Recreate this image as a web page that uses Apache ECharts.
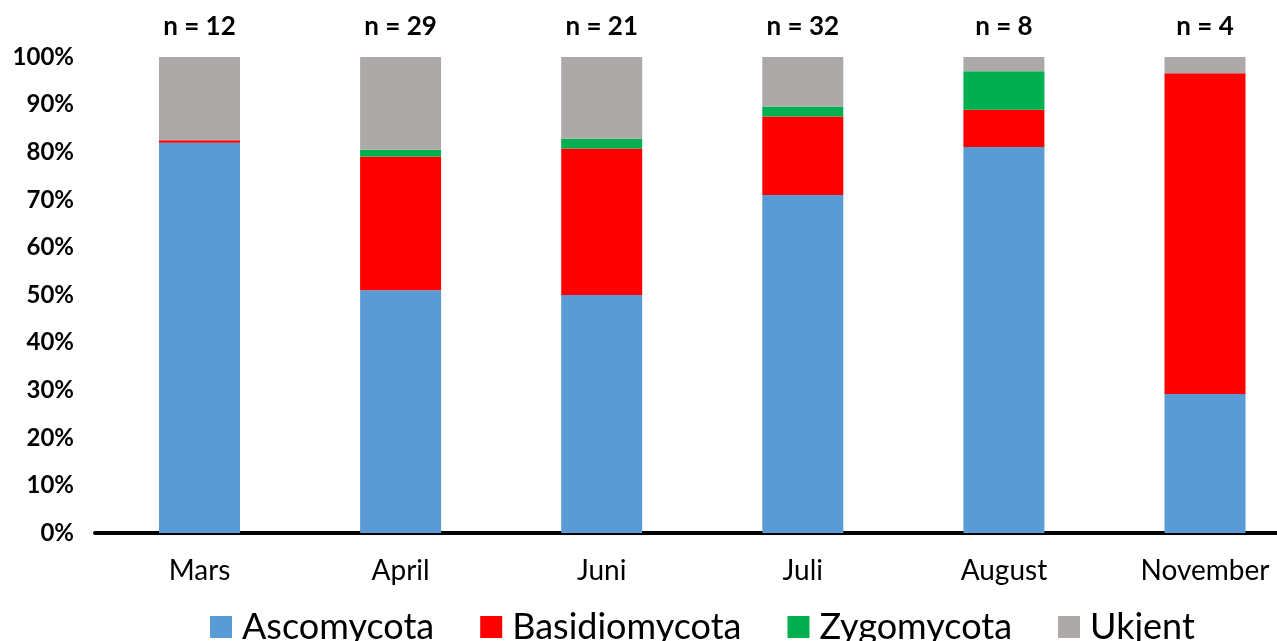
<!DOCTYPE html>
<html>
<head>
<meta charset="utf-8">
<script src="https://cdn.jsdelivr.net/npm/echarts@6/dist/echarts.min.js"></script>
<style>
html,body{margin:0;padding:0;background:#fff;overflow:hidden;}
#chart{width:1277px;height:641px;}
</style>
</head>
<body>
<div id="chart"></div>
<script>
var categories = ['Mars', 'April', 'Juni', 'Juli', 'August', 'November'];
var nLabels = ['n = 12', 'n = 29', 'n = 21', 'n = 32', 'n = 8', 'n = 4'];
var seriesNames = ['Ascomycota', 'Basidiomycota', 'Zygomycota', 'Ukjent'];
var ascomycota = [82.0, 51.0, 50.0, 71.0, 81.1, 29.2];
var basidiomycota = [0.5, 28.1, 30.8, 16.5, 7.8, 67.4];
var zygomycota = [0, 1.4, 2.0, 2.1, 8.1, 0];
var ukjent = [17.5, 19.5, 17.2, 10.4, 3.0, 3.4];
var colors = ['#5B9BD5', '#FF0000', '#00B050', '#ADA9A8'];

var FONT = 'Lato, "Noto Sans", sans-serif';
var dataSets = [ascomycota, basidiomycota, zygomycota, ukjent];
var chart = echarts.init(document.getElementById('chart'));
chart.setOption({
  animation: false,
  color: colors,
  grid: [
    { left: 95, right: 0, top: 57, bottom: 108, containLabel: false },
    { left: 199.5, right: 72, top: 57, bottom: 108, containLabel: false }
  ],
  legend: {
    data: seriesNames,
    left: 210,
    top: 609,
    padding: 0,
    itemWidth: 22,
    itemHeight: 22,
    itemGap: 46,
    icon: 'rect',
    textStyle: { fontFamily: FONT, fontSize: 36, color: '#000', padding: [0, 0, 0, 5] }
  },
  xAxis: [{
    gridIndex: 0,
    type: 'value',
    min: 0,
    max: 1,
    axisLine: { show: true, onZero: false, lineStyle: { color: '#000', width: 4 } },
    axisTick: { show: false },
    axisLabel: { show: false },
    splitLine: { show: false }
  }, {
    gridIndex: 1,
    type: 'category',
    data: categories,
    boundaryGap: false,
    position: 'bottom',
    axisLine: { show: false },
    axisTick: { show: false },
    axisLabel: { fontFamily: FONT, fontSize: 28, color: '#000', margin: 24, interval: 0 }
  }, {
    gridIndex: 1,
    type: 'category',
    data: nLabels,
    boundaryGap: false,
    position: 'top',
    axisLine: { show: false },
    axisTick: { show: false },
    axisLabel: { fontFamily: FONT, fontSize: 26, fontWeight: 'bold', color: '#000', margin: 17, interval: 0 }
  }],
  yAxis: [{
    gridIndex: 0,
    type: 'value',
    min: 0,
    max: 100,
    interval: 10,
    splitLine: { show: false },
    axisLine: { show: false },
    axisTick: { show: false },
    axisLabel: { fontFamily: FONT, fontSize: 24, fontWeight: 'bold', color: '#000', margin: 21, formatter: '{value}%' }
  }, {
    gridIndex: 1,
    type: 'value',
    min: 0,
    max: 100,
    interval: 10,
    show: false,
    splitLine: { show: false }
  }],
  series: dataSets.map(function (d, i) {
    return {
      name: seriesNames[i],
      type: 'bar',
      stack: 'total',
      barWidth: 81,
      clip: false,
      xAxisIndex: 1,
      yAxisIndex: 1,
      data: d,
      itemStyle: { color: colors[i] }
    };
  })
});
</script>
</body>
</html>
